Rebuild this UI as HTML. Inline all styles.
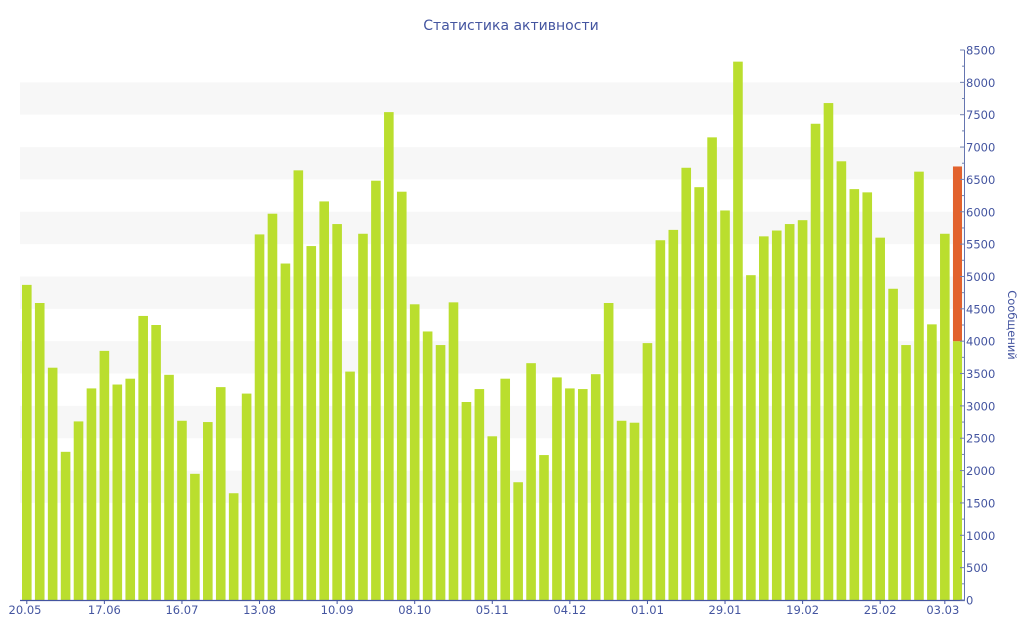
<!DOCTYPE html>
<html><head><meta charset="utf-8"><style>
body{margin:0;background:#fff;}
svg{display:block;font-family:"DejaVu Sans","Liberation Sans",sans-serif;}
</style></head><body>
<svg width="1024" height="640" xmlns="http://www.w3.org/2000/svg" id="c">
<text x="511" y="30" text-anchor="middle" font-size="14" fill="#4455a0">Статистика активности</text>
<g id="bands"></g><g id="bars"></g><g id="axis"></g>
<text transform="translate(1008,325) rotate(90)" text-anchor="middle" font-size="11.5" fill="#4455a0">Сообщений</text>
</svg>
<script>
const ns="http://www.w3.org/2000/svg";
function el(p,t,a,txt){const e=document.createElementNS(ns,t);for(const k in a)e.setAttribute(k,a[k]);if(txt!==undefined)e.textContent=txt;document.getElementById(p).appendChild(e);}
const Y=v=>600-v*550/8500;
for(let v=1500;v<8500;v+=1000){el("bands","rect",{x:20,y:Y(v+500),width:944,height:Y(v)-Y(v+500),fill:"#f7f7f7"});}
const d=[4870,4590,3590,2290,2760,3270,3850,3330,3420,4390,4250,3480,2770,1950,2750,3290,1650,3190,5650,5970,5200,6640,5470,6160,5810,3530,5660,6480,7540,6310,4570,4150,3940,4600,3060,3260,2530,3420,1820,3660,2240,3440,3270,3260,3490,4590,2770,2740,3970,5560,5720,6680,6380,7150,6020,8320,5020,5620,5710,5810,5870,7360,7680,6780,6350,6300,5600,4810,3940,6620,4260,5660];
const sp=12.93;
d.forEach((v,i)=>{el("bars","rect",{x:22+i*sp,y:Y(v),width:9.6,height:600-Y(v),fill:"#bade2e"});});
const x73=22+72*sp;
el("bars","rect",{x:x73,y:Y(4000),width:962-x73,height:600-Y(4000),fill:"#bade2e"});
el("bars","rect",{x:x73,y:Y(6700),width:962-x73,height:Y(4000)-Y(6700),fill:"#e2622d"});
const C="#4455a0";
el("axis","line",{x1:20,y1:600.5,x2:965,y2:600.5,stroke:C,"stroke-width":1.2});
el("axis","line",{x1:964.5,y1:50,x2:964.5,y2:601,stroke:"#6575b0","stroke-width":1});
for(let v=0;v<=8500;v+=250){const y=Y(v);el("axis","line",{x1:v%500?962:960,y1:y,x2:964.5,y2:y,stroke:"#7080b0","stroke-width":1});
if(v%500==0)el("axis","text",{x:966,y:y+4.5,"font-size":11.5,fill:C},String(v));}
const L=[["20.05",0],["17.06",6],["16.07",12],["13.08",18],["10.09",24],["08.10",30],["05.11",36],["04.12",42],["01.01",48],["29.01",54],["19.02",60],["25.02",66],["03.03",71]];
L.forEach(([t,i])=>{const x=26.8+i*sp;el("axis","line",{x1:x,y1:600,x2:x,y2:604,stroke:C});
let tx=x;if(i==0)tx=25;if(i==71)tx=x-2;
el("axis","text",{x:tx,y:614,"font-size":11.5,fill:C,"text-anchor":"middle"},t);});
</script>
</body></html>
